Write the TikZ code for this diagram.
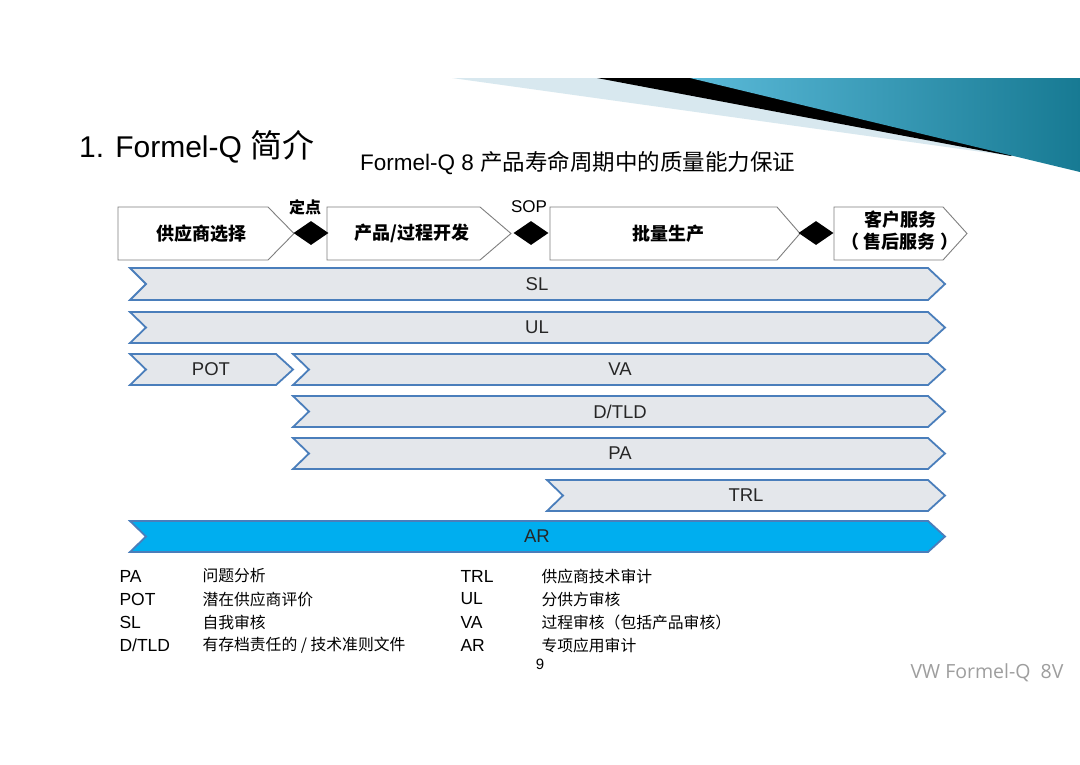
\documentclass[tikz,border=0pt]{standalone}
\usepackage{fontspec}
\setmainfont{Liberation Sans}
\newfontfamily\cjk{Noto Sans CJK SC}
\newfontfamily\osans{Open Sans}
\usetikzlibrary{shapes.geometric}
\definecolor{barfill}{HTML}{E4E7EB}
\definecolor{barline}{HTML}{4A7EBB}
\definecolor{arfill}{HTML}{00AEEF}
\definecolor{boxline}{HTML}{7F7F7F}
\definecolor{lightdeco}{HTML}{D8E8EF}
\definecolor{tealA}{HTML}{5BBAD9}
\definecolor{tealB}{HTML}{177A93}
\definecolor{txt}{HTML}{262626}
\newcommand{\fs}[1]{\fontsize{#1}{#1}\selectfont}
\newcommand{\chevbar}[5]{%
  \draw[#1] (#2,#4) -- ({#3-17},#4) -- (#3,{(#4+#5)/2}) -- ({#3-17},#5) -- (#2,#5) -- ({#2+16},{(#4+#5)/2}) -- cycle;}
\newcommand{\procbox}[3]{%
  \draw[procline] (#1,207) -- (#2,207) -- (#3,233.5) -- (#2,260) -- (#1,260) -- cycle;}
\tikzset{
  bar/.style={fill=barfill, draw=barline, line width=1.8pt, line join=miter},
  arbar/.style={fill=arfill, draw=barline, line width=1.8pt},
  procline/.style={fill=white, draw=boxline, line width=0.9pt},
  ms/.style={fill=black, diamond, inner sep=0pt, minimum width=35pt, minimum height=24pt},
  barlab/.style={text=txt, font=\fs{18.5}},
  proclab/.style={text=black, font=\cjk\bfseries\fs{18}, align=center},
  msl/.style={text=black, font=\fs{17}},
  legab/.style={anchor=west, text=black, font=\fs{17.5}},
  legcn/.style={anchor=west, text=black, font=\cjk\fs{15.8}},
}
\begin{document}
\begin{tikzpicture}[x=1pt,y=-1pt]
\useasboundingbox (0,0) rectangle (1080,764);
\fill[white] (0,0) rectangle (1080,764);
% corner decoration
\fill[lightdeco] (452,78) -- (1080,78) -- (1080,100) -- (1011,156) -- cycle;
\fill[black] (597,78) -- (1080,78) -- (1011,156) -- cycle;
\shade[left color=tealA, right color=tealB] (690,78) -- (1080,78) -- (1080,172) -- cycle;
% titles
\node[anchor=west, font=\fs{30}, text=black, inner sep=0] (title) at (79,147) {1. Formel-Q {\cjk\fs{32}简介}};
\node[anchor=west, font=\fs{22.5}, text=black, inner sep=0] (subtitle) at (360,163) {Formel-Q 8 {\cjk 产品寿命周期中的质量能力保证}};
% process boxes
\procbox{118}{268}{294}
\procbox{327}{480}{511}
\procbox{550}{777}{800}
\procbox{834}{943}{967}
\node[proclab] (p1) at (201,233.5) {供应商选择};
\node[proclab] (p2) at (412,233.5) {产品/过程开发};
\node[proclab] (p3) at (668,233.5) {批量生产};
\node[proclab, inner sep=0] (p4) at (900,231) {客户服务\\[4pt]（\hspace{5pt}售后服务\hspace{5pt}）};
\node[ms] (m1) at (311,233) {};
\node[ms] (m2) at (531,233) {};
\node[ms] (m3) at (816,233) {};
\node[msl, font=\cjk\bfseries\fs{16}] (m1l) at (305,207) {定点};
\node[msl] (m2l) at (529,207) {SOP};
% bars
\chevbar{bar}{130}{945}{268}{300}
\chevbar{bar}{130}{945}{312}{343}
\chevbar{bar}{130}{293}{354}{385}
\chevbar{bar}{293}{945}{354}{385}
\chevbar{bar}{293}{945}{396}{427}
\chevbar{bar}{293}{945}{438}{469}
\chevbar{bar}{547}{945}{480}{511}
\chevbar{arbar}{130}{945}{521}{552}
\node[barlab] (sl) at (537,284) {SL};
\node[barlab] (ul) at (537,327.5) {UL};
\node[barlab] (pot) at (211,369.5) {POT};
\node[barlab] (va) at (620,369.5) {VA};
\node[barlab] (dtld) at (620,411.5) {D/TLD};
\node[barlab] (pa) at (620,453.5) {PA};
\node[barlab] (trl) at (746,495.5) {TRL};
\node[barlab] (ar) at (537,536.5) {AR};
% legend
\node[legab] (la1) at (116,576) {PA};
\node[legab] (la2) at (116,599) {POT};
\node[legab] (la3) at (116,622) {SL};
\node[legab] (la4) at (116,645) {D/TLD};
\node[legcn] (lc1) at (199,576) {问题分析};
\node[legcn] (lc2) at (199,599) {潜在供应商评价};
\node[legcn] (lc3) at (199,622) {自我审核};
\node[legcn] (lc4) at (199,645) {有存档责任的 / 技术准则文件};
\node[legab] (lb1) at (457,576) {TRL};
\node[legab] (lb2) at (457,599) {UL};
\node[legab] (lb3) at (457,622) {VA};
\node[legab] (lb4) at (457,645) {AR};
\node[legcn] (ld1) at (538,576) {供应商技术审计};
\node[legcn] (ld2) at (538,599) {分供方审核};
\node[legcn] (ld3) at (538,622) {过程审核（包括产品审核）};
\node[legcn] (ld4) at (538,645) {专项应用审计};
\node[font=\fs{15}, text=black] (pg) at (540,664) {9};
\node[anchor=east, font=\osans\fs{19.5}, text=black!38] (vw) at (1067,673) {VW Formel-Q\ \ 8V};
\end{tikzpicture}
\end{document}
